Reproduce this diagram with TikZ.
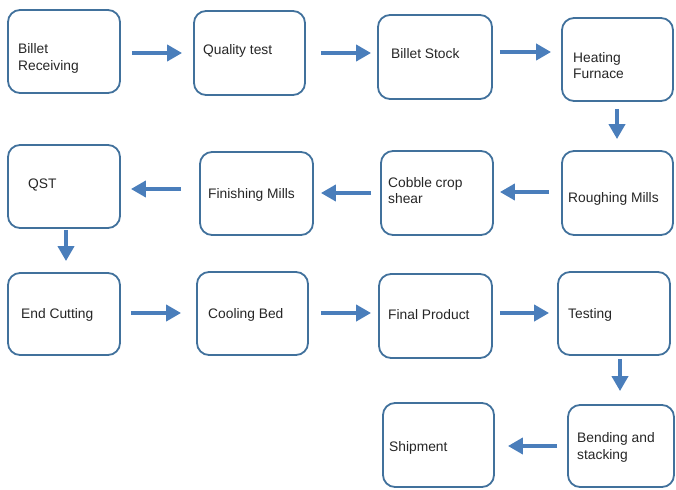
\documentclass[tikz,border=0pt]{standalone}
\usepackage{fontspec}
\setmainfont{Liberation Sans}
\usetikzlibrary{arrows.meta}
\definecolor{boxline}{HTML}{41719C}
\definecolor{arrowblue}{HTML}{4A7EBB}
\tikzset{
  stepbox/.style={draw=boxline, line width=1.8pt, rounded corners=12pt, fill=white, inner sep=0pt},
  lbl/.style={anchor=west, inner sep=0pt, align=left, font=\fontsize{13.8}{16.5}\selectfont, text=black!85, yshift=-1.5pt},
  arr/.style={draw=arrowblue, line width=4.8pt, -{Triangle[length=15pt, width=16pt]}}
}
\begin{document}
\begin{tikzpicture}[x=1pt, y=-1pt]
\useasboundingbox (0,0) rectangle (676,489);
% boxes: (x1,y1) to (x2,y2)
\newcommand{\mybox}[5]{\node[stepbox, minimum width=#4-#2, minimum height=#5-#3] (#1) at ({(#2+#4)/2},{(#3+#5)/2}) {};}
\mybox{br}{8}{10}{120}{93}
\mybox{qt}{194}{11}{305}{95}
\mybox{bs}{378}{15}{492}{99}
\mybox{hf}{562}{18}{673}{101}
\mybox{qst}{8}{145}{120}{228}
\mybox{fm}{200}{152}{313}{235}
\mybox{cc}{381}{151}{493}{235}
\mybox{rm}{562}{151}{673}{235}
\mybox{ec}{8}{273}{120}{355}
\mybox{cb}{197}{272}{308}{355}
\mybox{fp}{379}{274}{492}{358}
\mybox{te}{558}{272}{670}{355}
\mybox{sh}{383}{403}{494}{487}
\mybox{bend}{568}{405}{674}{487}
% labels
\node[lbl] (tbr) at (18,57) {Billet\\Receiving};
\node[lbl] (tqt) at (203,49) {Quality test};
\node[lbl] (tbs) at (391,52) {Billet Stock};
\node[lbl] (thf) at (573,64) {Heating\\Furnace};
\node[lbl] (tqst) at (28,183) {QST};
\node[lbl] (tfm) at (208,193) {Finishing Mills};
\node[lbl] (tcc) at (388,189) {Cobble crop\\shear};
\node[lbl] (trm) at (568,197) {Roughing Mills};
\node[lbl] (tec) at (21,313) {End Cutting};
\node[lbl] (tcb) at (208,313) {Cooling Bed};
\node[lbl] (tfp) at (388,313) {Final Product};
\node[lbl] (tte) at (568,313) {Testing};
\node[lbl] (tsh) at (389,446) {Shipment};
\node[lbl] (tbend) at (577,446) {Bending and\\stacking};
% arrows
\draw[arr, shorten <=11pt, shorten >=11pt] (br.east |- 0,53) -- (qt.west |- 0,53);
\draw[arr, shorten <=15pt, shorten >=6pt] (qt.east |- 0,53) -- (bs.west |- 0,53);
\draw[arr, shorten <=7pt, shorten >=10pt] (bs.east |- 0,52) -- (hf.west |- 0,52);
\draw[arr, shorten <=7pt, shorten >=11pt] (hf.south -| 617,0) -- (rm.north -| 617,0);
\draw[arr, shorten <=12pt, shorten >=6pt] (rm.west |- 0,192) -- (cc.east |- 0,192);
\draw[arr, shorten <=9pt, shorten >=7pt] (cc.west |- 0,193) -- (fm.east |- 0,193);
\draw[arr, shorten <=18pt, shorten >=10pt] (fm.west |- 0,189) -- (qst.east |- 0,189);
\draw[arr, shorten <=1pt, shorten >=11pt] (qst.south -| 66,0) -- (ec.north -| 66,0);
\draw[arr, shorten <=10pt, shorten >=15pt] (ec.east |- 0,313) -- (cb.west |- 0,313);
\draw[arr, shorten <=12pt, shorten >=7pt] (cb.east |- 0,313) -- (fp.west |- 0,313);
\draw[arr, shorten <=7pt, shorten >=8pt] (fp.east |- 0,313) -- (te.west |- 0,313);
\draw[arr, shorten <=3pt, shorten >=13pt] (te.south -| 620,0) -- (bend.north -| 620,0);
\draw[arr, shorten <=10pt, shorten >=13pt] (bend.west |- 0,446) -- (sh.east |- 0,446);
\end{tikzpicture}
\end{document}
